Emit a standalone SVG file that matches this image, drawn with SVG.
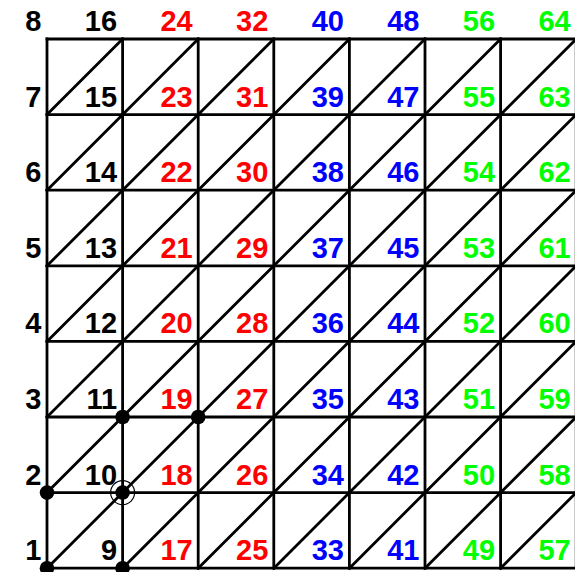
<svg xmlns="http://www.w3.org/2000/svg" width="575" height="572" viewBox="0 0 575 572">
<style>
.ln{stroke:#000;stroke-width:2.8;fill:none;stroke-linecap:square}
text{font-family:"Liberation Sans",Arial,sans-serif;font-weight:bold;font-size:29px;text-anchor:end}
.k{fill:#000}.r{fill:#FF0000}.b{fill:#0000FF}.g{fill:#00FF00}
.dot{fill:#000}
.ring{fill:none;stroke:#000;stroke-width:1.2}
</style>
<rect width="575" height="572" fill="#fff"/>
<g id="connectors" class="ln">
<path d="M47 39H576.2M47 114.6H576.2M47 190.2H576.2M47 265.8H576.2M47 341.4H576.2M47 417H576.2M47 492.6H576.2M47 568.2H576.2"/>
<path d="M47 39V568.2M122.6 39V568.2M198.2 39V568.2M273.8 39V568.2M349.4 39V568.2M425 39V568.2M500.6 39V568.2M576.2 39V568.2"/>
<path d="M47 568.2L576.2 39M122.6 568.2L576.2 114.6M198.2 568.2L576.2 190.2M273.8 568.2L576.2 265.8M349.4 568.2L576.2 341.4M425 568.2L576.2 417M500.6 568.2L576.2 492.6M47 492.6L500.6 39M47 417L425 39M47 341.4L349.4 39M47 265.8L273.8 39M47 190.2L198.2 39M47 114.6L122.6 39"/>
</g>
<g id="points">
<circle class="dot" cx="47" cy="568.2" r="7.3"/>
<circle class="dot" cx="122.6" cy="568.2" r="7.3"/>
<circle class="dot" cx="47" cy="492.6" r="7.3"/>
<circle class="dot" cx="122.6" cy="492.6" r="7.3"/>
<circle class="ring" cx="122.6" cy="492.6" r="12"/>
<circle class="dot" cx="122.6" cy="417" r="7.3"/>
<circle class="dot" cx="198.2" cy="417" r="7.3"/>
</g>
<g id="labels">
<g id="n1"><text class="k" x="41.5" y="560.2">1</text></g>
<g id="n2"><text class="k" x="41.5" y="484.6">2</text></g>
<g id="n3"><text class="k" x="41.5" y="409">3</text></g>
<g id="n4"><text class="k" x="41.5" y="333.4">4</text></g>
<g id="n5"><text class="k" x="41.5" y="257.8">5</text></g>
<g id="n6"><text class="k" x="41.5" y="182.2">6</text></g>
<g id="n7"><text class="k" x="41.5" y="106.6">7</text></g>
<g id="n8"><text class="k" x="41.5" y="31">8</text></g>
<g id="n9"><text class="k" x="117.1" y="560.2">9</text></g>
<g id="n10"><text class="k" x="117.1" y="484.6">10</text></g>
<g id="n11"><text class="k" x="117.1" y="409">11</text></g>
<g id="n12"><text class="k" x="117.1" y="333.4">12</text></g>
<g id="n13"><text class="k" x="117.1" y="257.8">13</text></g>
<g id="n14"><text class="k" x="117.1" y="182.2">14</text></g>
<g id="n15"><text class="k" x="117.1" y="106.6">15</text></g>
<g id="n16"><text class="k" x="117.1" y="31">16</text></g>
<g id="n17"><text class="r" x="192.7" y="560.2">17</text></g>
<g id="n18"><text class="r" x="192.7" y="484.6">18</text></g>
<g id="n19"><text class="r" x="192.7" y="409">19</text></g>
<g id="n20"><text class="r" x="192.7" y="333.4">20</text></g>
<g id="n21"><text class="r" x="192.7" y="257.8">21</text></g>
<g id="n22"><text class="r" x="192.7" y="182.2">22</text></g>
<g id="n23"><text class="r" x="192.7" y="106.6">23</text></g>
<g id="n24"><text class="r" x="192.7" y="31">24</text></g>
<g id="n25"><text class="r" x="268.3" y="560.2">25</text></g>
<g id="n26"><text class="r" x="268.3" y="484.6">26</text></g>
<g id="n27"><text class="r" x="268.3" y="409">27</text></g>
<g id="n28"><text class="r" x="268.3" y="333.4">28</text></g>
<g id="n29"><text class="r" x="268.3" y="257.8">29</text></g>
<g id="n30"><text class="r" x="268.3" y="182.2">30</text></g>
<g id="n31"><text class="r" x="268.3" y="106.6">31</text></g>
<g id="n32"><text class="r" x="268.3" y="31">32</text></g>
<g id="n33"><text class="b" x="343.9" y="560.2">33</text></g>
<g id="n34"><text class="b" x="343.9" y="484.6">34</text></g>
<g id="n35"><text class="b" x="343.9" y="409">35</text></g>
<g id="n36"><text class="b" x="343.9" y="333.4">36</text></g>
<g id="n37"><text class="b" x="343.9" y="257.8">37</text></g>
<g id="n38"><text class="b" x="343.9" y="182.2">38</text></g>
<g id="n39"><text class="b" x="343.9" y="106.6">39</text></g>
<g id="n40"><text class="b" x="343.9" y="31">40</text></g>
<g id="n41"><text class="b" x="419.5" y="560.2">41</text></g>
<g id="n42"><text class="b" x="419.5" y="484.6">42</text></g>
<g id="n43"><text class="b" x="419.5" y="409">43</text></g>
<g id="n44"><text class="b" x="419.5" y="333.4">44</text></g>
<g id="n45"><text class="b" x="419.5" y="257.8">45</text></g>
<g id="n46"><text class="b" x="419.5" y="182.2">46</text></g>
<g id="n47"><text class="b" x="419.5" y="106.6">47</text></g>
<g id="n48"><text class="b" x="419.5" y="31">48</text></g>
<g id="n49"><text class="g" x="495.1" y="560.2">49</text></g>
<g id="n50"><text class="g" x="495.1" y="484.6">50</text></g>
<g id="n51"><text class="g" x="495.1" y="409">51</text></g>
<g id="n52"><text class="g" x="495.1" y="333.4">52</text></g>
<g id="n53"><text class="g" x="495.1" y="257.8">53</text></g>
<g id="n54"><text class="g" x="495.1" y="182.2">54</text></g>
<g id="n55"><text class="g" x="495.1" y="106.6">55</text></g>
<g id="n56"><text class="g" x="495.1" y="31">56</text></g>
<g id="n57"><text class="g" x="570.7" y="560.2">57</text></g>
<g id="n58"><text class="g" x="570.7" y="484.6">58</text></g>
<g id="n59"><text class="g" x="570.7" y="409">59</text></g>
<g id="n60"><text class="g" x="570.7" y="333.4">60</text></g>
<g id="n61"><text class="g" x="570.7" y="257.8">61</text></g>
<g id="n62"><text class="g" x="570.7" y="182.2">62</text></g>
<g id="n63"><text class="g" x="570.7" y="106.6">63</text></g>
<g id="n64"><text class="g" x="570.7" y="31">64</text></g>
</g>
</svg>
